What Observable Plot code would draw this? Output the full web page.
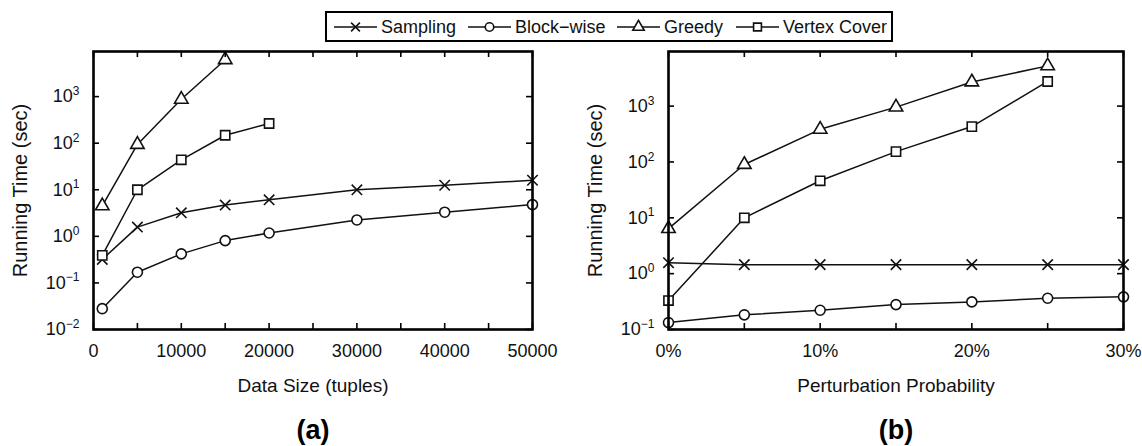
<!DOCTYPE html>
<html><head><meta charset="utf-8">
<script src="https://cdn.jsdelivr.net/npm/d3@7"></script>
<script src="https://cdn.jsdelivr.net/npm/@observablehq/plot@0.6"></script>
<style>
html,body{margin:0;padding:0;background:#fff;}
#root{position:relative;width:1142px;height:446px;overflow:hidden;font-family:"Liberation Sans",Arial,sans-serif;color:#000;}
.panel{position:absolute;top:0;}
#legend{position:absolute;left:325px;top:11px;width:564px;height:27px;border:2px solid #000;background:#fff;}
.litem{position:absolute;font-size:18px;line-height:18px;white-space:nowrap;color:#111;}
</style></head><body>
<div id="root">
  <div class="panel" id="pa" style="left:0"></div>
  <div class="panel" id="pb" style="left:571px"></div>
  <div id="legend"></div>
</div>
<script>
// ---- data ----
const seriesNames = ["Sampling", "Block\u2212wise", "Greedy", "Vertex Cover"];
const seriesSymbols = ["times", "circle", "triangle", "square"];
const seriesR = [4.8, 5, 5, 5.2];

// (a) running time vs data size
const sizeX = [1000, 5000, 10000, 15000, 20000, 30000, 40000, 50000];
const samplingA = [0.32, 1.58, 3.2, 4.7, 6.1, 10, 12.5, 16];
const blockA = [0.028, 0.17, 0.42, 0.81, 1.18, 2.25, 3.3, 4.8];
const greedySizeX = [1000, 5000, 10000, 15000];
const greedyA = [4.5, 94, 875, 6200];
const vertexSizeX = [1000, 5000, 10000, 15000, 20000];
const vertexA = [0.39, 10, 44, 148, 265];

// (b) running time vs perturbation probability (%)
const probX = [0, 5, 10, 15, 20, 25, 30];
const samplingB = [1.57, 1.45, 1.45, 1.45, 1.45, 1.45, 1.45];
const blockB = [0.133, 0.183, 0.221, 0.279, 0.312, 0.363, 0.384];
const greedyProbX = [0, 5, 10, 15, 20, 25];
const greedyB = [6.4, 90, 384, 960, 2700, 5250];
const vertexProbX = [0, 5, 10, 15, 20, 25];
const vertexB = [0.33, 10, 46, 153, 430, 2760];

// axes
const xTicksA = [0, 5000, 10000, 15000, 20000, 25000, 30000, 35000, 40000, 45000, 50000];
const xLabelsA = [0, 10000, 20000, 30000, 40000, 50000];
const yTicksA = [0.01, 0.1, 1, 10, 100, 1000];
const xTicksB = [0, 5, 10, 15, 20, 25, 30];
const xLabelsB = [0, 10, 20, 30];
const yTicksB = [0.1, 1, 10, 100, 1000];

const yTitle = "Running Time (sec)";
const xTitleA = "Data Size (tuples)";
const xTitleB = "Perturbation Probability";

function rows(xs, ys) { return xs.map((x, i) => ({x, y: ys[i]})); }

const FONT = "Liberation Sans, Arial, sans-serif";
const INK = "#111";
const HEIGHT = 446, MT = 51, MB = 117, TICK = 6;

function makePanel({width, marginLeft, marginRight, xDomain, yDomain, xTicks, xLabels, xFmt, yTicks, series, xTitle, tag}) {
  const fw = width - marginLeft - marginRight;
  const fh = HEIGHT - MT - MB;
  const marks = [];
  series.forEach((s, i) => {
    marks.push(Plot.line(s, {x: "x", y: "y", stroke: INK, strokeWidth: 1.5}));
    marks.push(Plot.dot(s, {x: "x", y: "y", symbol: seriesSymbols[i], r: seriesR[i], stroke: INK, fill: "#fff", strokeWidth: 1.6}));
  });
  // inward ticks on all four sides
  const tk = {stroke: "#000", strokeWidth: 1.6};
  marks.push(Plot.tickX(xTicks, {x: d => d, insetTop: fh - TICK, ...tk}));
  marks.push(Plot.tickX(xTicks, {x: d => d, insetBottom: fh - TICK, ...tk}));
  marks.push(Plot.tickY(yTicks, {y: d => d, insetRight: fw - TICK, ...tk}));
  marks.push(Plot.tickY(yTicks, {y: d => d, insetLeft: fw - TICK, ...tk}));
  // tick labels
  marks.push(Plot.axisX({anchor: "bottom", ticks: xLabels, tickSize: 0, tickPadding: 15, tickFormat: xFmt, label: null, fontSize: 18}));
  marks.push(Plot.axisY({anchor: "left", ticks: yTicks, tickSize: 0, tickPadding: 14,
    tickFormat: d => "10^" + String(Math.round(Math.log10(d))).replace("-", "\u2212"), label: null, fontSize: 18}));
  marks.push(Plot.frame({stroke: "#000", strokeWidth: 2.6}));
  // titles
  marks.push(Plot.text([xTitle], {frameAnchor: "bottom", dy: 56, textAnchor: "middle", lineAnchor: "middle", fontSize: 19, fill: INK}));
  marks.push(Plot.text([yTitle], {frameAnchor: "left", dx: -73, rotate: -90, textAnchor: "middle", lineAnchor: "middle", fontSize: 20, fill: INK}));
  marks.push(Plot.text([tag], {frameAnchor: "bottom", dy: 101, textAnchor: "middle", lineAnchor: "middle", fontSize: 27, fontWeight: "bold", fill: "#000"}));

  const svg = Plot.plot({
    width, height: HEIGHT,
    marginLeft, marginRight, marginTop: MT, marginBottom: MB,
    x: {type: "linear", domain: xDomain},
    y: {type: "log", domain: yDomain},
    style: {fontFamily: FONT, fontSize: "18px", color: INK, background: "transparent", overflow: "visible"},
    marks
  });
  // superscript exponents on y tick labels
  d3.select(svg).selectAll('g[aria-label="y-axis tick label"] text').each(function () {
    const m = this.textContent.match(/^10\^(.+)$/);
    if (!m) return;
    const s = d3.select(this);
    s.text(null);
    s.append("tspan").text("10");
    s.append("tspan").attr("dy", "-0.6em").attr("font-size", "12px").text(m[1]);
  });
  return svg;
}

const seriesA = [rows(sizeX, samplingA), rows(sizeX, blockA), rows(greedySizeX, greedyA), rows(vertexSizeX, vertexA)];
const seriesB = [rows(probX, samplingB), rows(probX, blockB), rows(greedyProbX, greedyB), rows(vertexProbX, vertexB)];

document.getElementById("pa").appendChild(makePanel({
  width: 571, marginLeft: 93, marginRight: 39,
  xDomain: [0, 50000], yDomain: [0.01, 9300],
  xTicks: xTicksA, xLabels: xLabelsA, xFmt: d => String(d),
  yTicks: yTicksA, series: seriesA, xTitle: xTitleA, tag: "(a)"
}));
document.getElementById("pb").appendChild(makePanel({
  width: 571, marginLeft: 97, marginRight: 19,
  xDomain: [0, 30], yDomain: [0.1, 9500],
  xTicks: xTicksB, xLabels: xLabelsB, xFmt: d => d + "%",
  yTicks: yTicksB, series: seriesB, xTitle: xTitleB, tag: "(b)"
}));

// legend
const root = document.getElementById("root");
const legendLineX = [334, 468, 617, 736];
const symbolTypes = {times: d3.symbolTimes, circle: d3.symbolCircle, triangle: d3.symbolTriangle, square: d3.symbolSquare};
seriesNames.forEach((name, i) => {
  const x0 = legendLineX[i];
  const sv = d3.create("svg").attr("width", 43).attr("height", 20)
    .style("position", "absolute").style("left", x0 + "px").style("top", "17px");
  sv.append("line").attr("x1", 0).attr("x2", 43).attr("y1", 10).attr("y2", 10).attr("stroke", INK).attr("stroke-width", 1.5);
  const r = seriesR[i] * 0.85;
  sv.append("path").attr("transform", "translate(21.5,10)")
    .attr("d", d3.symbol(symbolTypes[seriesSymbols[i]], Math.PI * r * r)())
    .attr("fill", seriesSymbols[i] === "times" ? "none" : "#fff").attr("stroke", INK).attr("stroke-width", 1.6);
  root.appendChild(sv.node());
  const t = document.createElement("div");
  t.className = "litem";
  t.style.left = (x0 + 47) + "px";
  t.style.top = "18px";
  t.textContent = name;
  root.appendChild(t);
});
</script>
</body></html>
